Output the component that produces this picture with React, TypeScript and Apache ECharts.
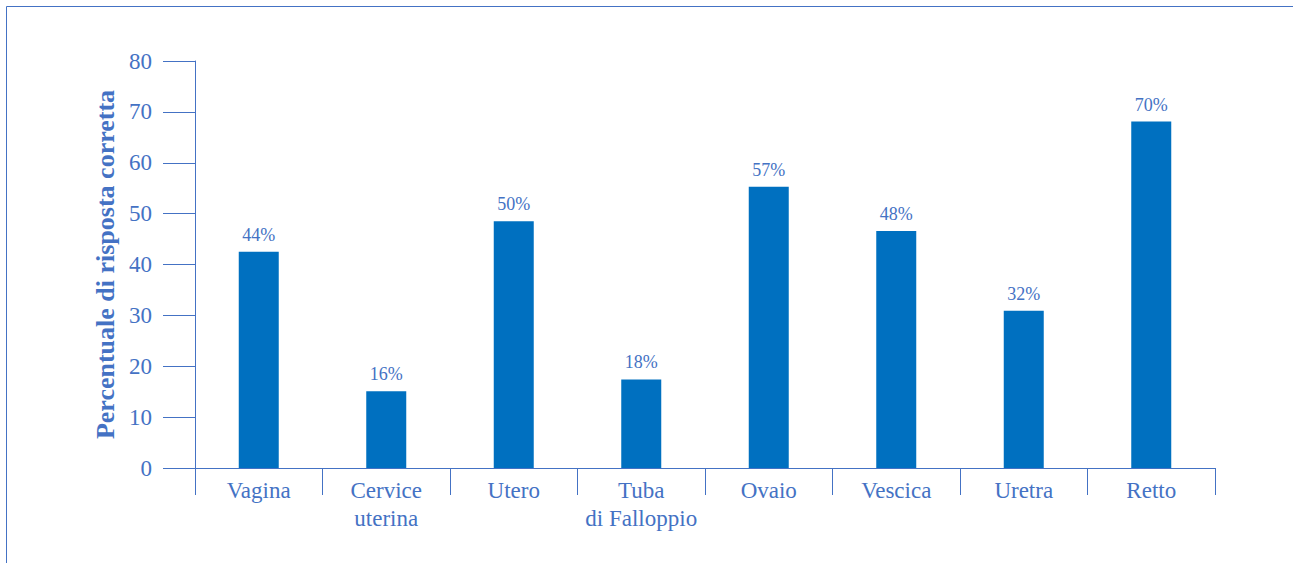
import React, { useEffect, useRef } from "react";
import * as echarts from "echarts";

const categories = ["Vagina", "Cervice\nuterina", "Utero", "Tuba\ndi Falloppio", "Ovaio", "Vescica", "Uretra", "Retto"];
const barValues = [42.5, 15.1, 48.5, 17.4, 55.3, 46.6, 30.9, 68.1];
const barLabels = ["44%", "16%", "50%", "18%", "57%", "48%", "32%", "70%"];
const yTicks = { min: 0, max: 80, interval: 10 };
const yAxisTitle = "Percentuale di risposta corretta";

const TEXT = "#4472C4";
const BAR = "#0070C0";
const FONT = "Liberation Serif";

export default function App() {
  const ref = useRef<HTMLDivElement>(null);
  useEffect(() => {
    if (!ref.current) return;
    const chart = echarts.init(ref.current, null, { renderer: "svg" });
    chart.setOption({
      animation: false,
      textStyle: { fontFamily: FONT },
      grid: { left: 195, right: 78, top: 61, bottom: 95, containLabel: false },
      graphic: [
        {
          type: "rect",
          shape: { x: 6.5, y: 6.5, width: 1400, height: 700 },
          style: { fill: "none", stroke: TEXT, lineWidth: 1 },
          silent: true,
        },
      ],
      xAxis: {
        type: "category",
        data: categories,
        axisLine: { lineStyle: { color: TEXT, width: 1 } },
        axisTick: { show: true, length: 27, alignWithLabel: false, lineStyle: { color: TEXT, width: 1 } },
        axisLabel: {
          color: TEXT,
          fontFamily: FONT,
          fontSize: 23,
          lineHeight: 28,
          margin: 8,
          interval: 0,
        },
      },
      yAxis: {
        type: "value",
        min: yTicks.min,
        max: yTicks.max,
        interval: yTicks.interval,
        name: yAxisTitle,
        nameLocation: "middle",
        nameGap: 73,
        nameTextStyle: { color: TEXT, fontFamily: FONT, fontSize: 26, fontWeight: "bold" },
        axisLine: { show: true, lineStyle: { color: TEXT, width: 1 } },
        axisTick: { show: true, length: 32, lineStyle: { color: TEXT, width: 1 } },
        axisLabel: { color: TEXT, fontFamily: FONT, fontSize: 23, margin: 43 },
        splitLine: { show: false },
      },
      series: [
        {
          type: "bar",
          data: barValues,
          barWidth: 40,
          itemStyle: { color: BAR },
          label: {
            show: true,
            position: "top",
            distance: 8,
            color: TEXT,
            fontFamily: FONT,
            fontSize: 18,
            formatter: (p: any) => barLabels[p.dataIndex],
          },
        },
      ],
    });
    return () => chart.dispose();
  }, []);
  return (
    <div
      ref={ref}
      style={{ position: "absolute", left: 0, top: 0, width: 1293, height: 563, background: "#fff" }}
    />
  );
}
